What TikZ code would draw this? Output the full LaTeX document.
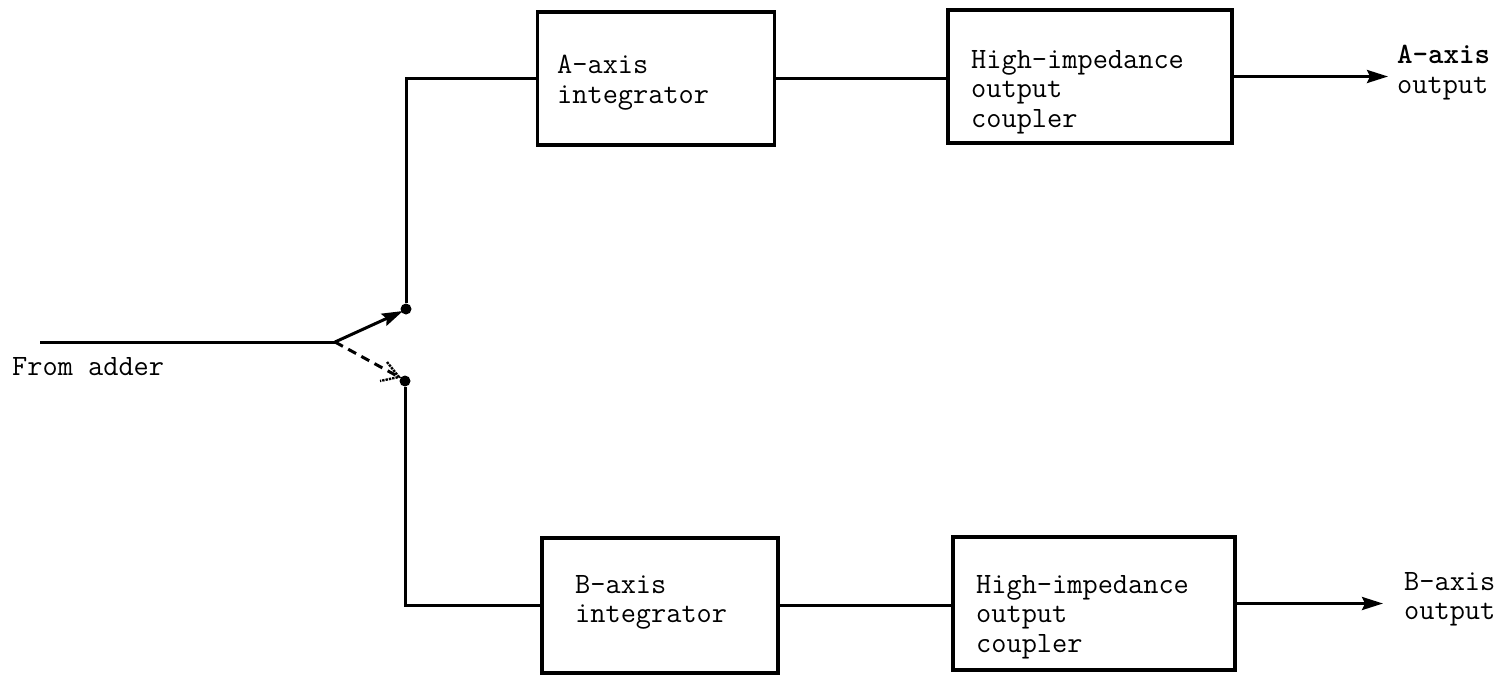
\documentclass[tikz,border=0pt]{standalone}
\usetikzlibrary{arrows.meta}
\begin{document}
\begin{tikzpicture}[x=1pt,y=-1pt,
  blockbox/.style={draw,line width=3.4pt,rectangle,inner sep=0pt},
  txt/.style={font=\ttfamily\fontsize{29.5}{29.5}\selectfont,align=left,inner sep=0pt,anchor=north west},
  wire/.style={line width=3pt},
  tip/.style={-{Stealth[length=21pt,width=13pt,inset=3pt]}},
  contact/.style={circle,fill,inner sep=0pt,minimum size=11pt}]
\useasboundingbox (0,0) rectangle (1507,675);

% processing blocks
\node[blockbox,minimum width=237pt,minimum height=133pt] (aint) at (656,78.5) {};
\node[blockbox,minimum width=284pt,minimum height=133pt] (acoup) at (1090,76.5) {};
\node[blockbox,minimum width=236pt,minimum height=135pt] (bint) at (660,605.5) {};
\node[blockbox,minimum width=282pt,minimum height=133pt] (bcoup) at (1094,603.5) {};

% block labels
\node[txt] (aint-t) at (557,55) {A-axis\\integrator};
\node[txt] (acoup-t) at (971,50) {High-impedance\\output\\coupler};
\node[txt] (bint-t) at (575,575) {B-axis\\integrator};
\node[txt] (bcoup-t) at (976,575) {High-impedance\\output\\coupler};

% outer labels
\node[txt] (aout-t) at (1397,45) {\textbf{A-axis}\\output};
\node[txt] (bout-t) at (1404,572) {B-axis\\output};
\node[txt] (in-t) at (12,357) {From adder};

% switch
\coordinate (in) at (40,342);
\coordinate (sw) at (335,342);
\node[contact] (ca) at (406,309) {};
\node[contact] (cb) at (405,381) {};
\coordinate (atip) at (403,311);
\coordinate (btip) at (399,377);

\draw[wire] (in) -- (sw);
\draw[wire,tip] (sw) -- (atip);
\draw[wire,dashed,dash pattern=on 9pt off 6pt] (sw) -- (btip);
\draw[line width=2.4pt,densely dotted] (387,362) -- (btip) -- (380,381);

% signal paths
\draw[wire] (ca) |- (aint.west);
\draw[wire] (cb) |- (bint.west);
\draw[wire] (aint.east) -- (aint.east -| acoup.west);
\draw[wire] (bint.east) -- (bint.east -| bcoup.west);

\coordinate (aout) at (1388,76.5);
\coordinate (bout) at (1383,603.5);
\draw[wire,tip] (acoup.east) -- (aout);
\draw[wire,tip] (bcoup.east) -- (bout);
\end{tikzpicture}
\end{document}
